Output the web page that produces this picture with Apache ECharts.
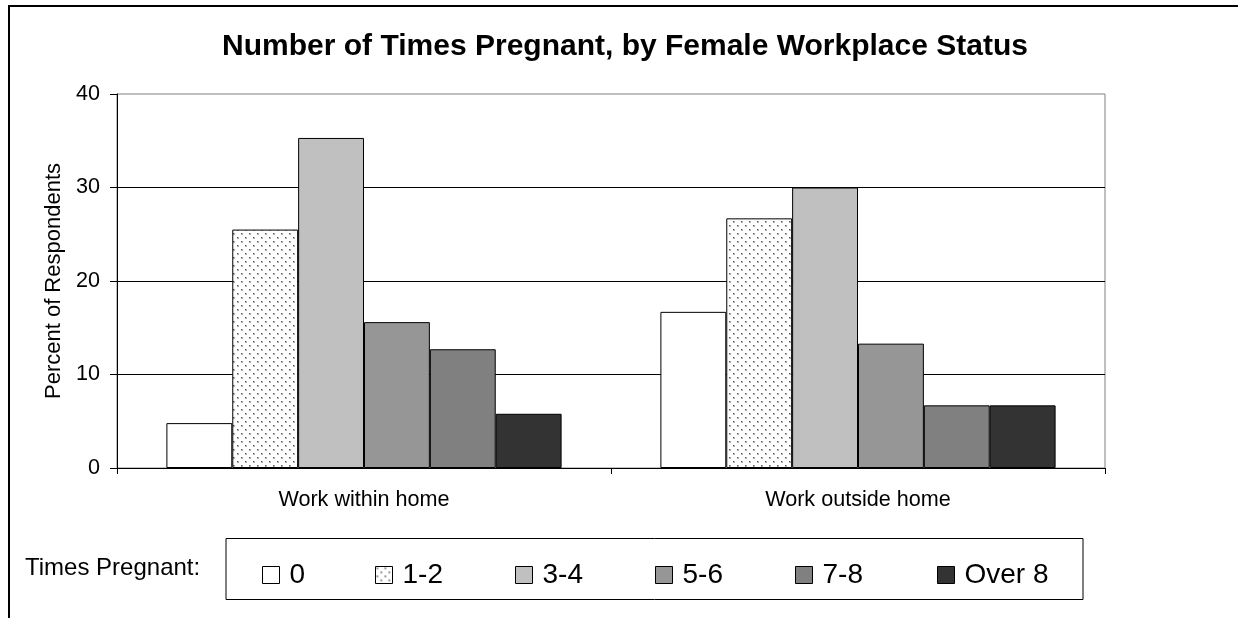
<!DOCTYPE html>
<html>
<head>
<meta charset="utf-8">
<script src="https://cdn.jsdelivr.net/npm/echarts@6/dist/echarts.min.js"></script>
<style>
html,body{margin:0;padding:0;background:#fff;}
#chart{width:1238px;height:618px;}
</style>
</head>
<body>
<div id="chart"></div>
<script>
const titleText = 'Number of Times Pregnant, by Female Workplace Status';
const yAxisTitle = 'Percent of Respondents';
const legendTitle = 'Times Pregnant:';
const categories = ['Work within home', 'Work outside home'];
const seriesNames = ['0', '1-2', '3-4', '5-6', '7-8', 'Over 8'];
const values0 = [4.8, 16.7];
const values1to2 = [25.5, 26.7];
const values3to4 = [35.3, 30.0];
const values5to6 = [15.6, 13.3];
const values7to8 = [12.7, 6.7];
const valuesOver8 = [5.8, 6.7];
const yTicks = [0, 10, 20, 30, 40];

const FONT = '"Liberation Sans", Arial, sans-serif';

function dotPattern() {
  const c = document.createElement('canvas');
  c.width = 8; c.height = 8;
  const g = c.getContext('2d');
  g.fillStyle = '#ffffff'; g.fillRect(0, 0, 8, 8);
  g.fillStyle = '#b0b0b0';
  g.fillRect(1, 1, 2, 2);
  g.fillRect(5, 5, 2, 2);
  g.fillStyle = '#555555';
  g.fillRect(1, 1, 1, 1);
  g.fillRect(5, 5, 1, 1);
  return c;
}

const seriesValues = [values0, values1to2, values3to4, values5to6, values7to8, valuesOver8];
const seriesColors = ['#ffffff', { image: dotPattern(), repeat: 'repeat' }, '#c0c0c0', '#969696', '#808080', '#333333'];
const legendLefts = [262, 375, 515, 655, 795, 937];

const chart = echarts.init(document.getElementById('chart'), null, { renderer: 'canvas' });

const series = seriesNames.map((name, i) => ({
  name: name,
  type: 'bar',
  data: seriesValues[i],
  barGap: '0%',
  barCategoryGap: '20%',
  itemStyle: { color: seriesColors[i], borderColor: '#000', borderWidth: 1 },
  emphasis: { disabled: true },
  animation: false
}));

const legends = seriesNames.map((name, i) => ({
  data: [name],
  left: legendLefts[i],
  top: 561,
  padding: 0,
  itemWidth: 17,
  itemHeight: 17,
  icon: 'rect',
  selectedMode: false,
  itemStyle: { borderColor: '#000', borderWidth: 1 },
  textStyle: { fontFamily: FONT, fontSize: 28, color: '#000', padding: [0, 0, 0, 5] }
}));

const option = {
  backgroundColor: '#fff',
  animation: false,
  textStyle: { fontFamily: FONT },
  grid: {
    left: 117, top: 94, right: 133, bottom: 150,
    show: true, borderColor: '#808080', borderWidth: 1, backgroundColor: 'transparent'
  },
  legend: legends,
  xAxis: {
    type: 'category',
    data: categories,
    axisLine: { lineStyle: { color: '#000', width: 1 } },
    axisTick: { show: true, length: 6, lineStyle: { color: '#000' } },
    axisLabel: { fontFamily: FONT, fontSize: 21.6, color: '#000', margin: 21 },
    splitLine: { show: false }
  },
  yAxis: {
    type: 'value',
    min: yTicks[0], max: yTicks[yTicks.length - 1], interval: 10,
    name: yAxisTitle,
    nameLocation: 'middle',
    nameGap: 52,
    nameTextStyle: { fontFamily: FONT, fontSize: 22, color: '#000' },
    axisLine: { show: true, lineStyle: { color: '#000', width: 1 } },
    axisTick: { show: true, length: 7, lineStyle: { color: '#000' } },
    axisLabel: { fontFamily: FONT, fontSize: 21.6, color: '#000', margin: 17 },
    splitLine: { show: true, showMinLine: false, showMaxLine: false, lineStyle: { color: '#000', width: 1 } }
  },
  graphic: [
    { type: 'rect', silent: true, z: 100,
      shape: { x: 9, y: 6, width: 1400, height: 800 },
      style: { fill: 'none', stroke: '#000', lineWidth: 2 } },
    { type: 'text', silent: true, z: 100,
      style: { text: titleText, x: 625, y: 47, font: 'bold 30px ' + FONT, fill: '#000',
               textAlign: 'center', textVerticalAlign: 'middle' } },
    { type: 'rect', silent: true, z: 1,
      shape: { x: 226, y: 538.5, width: 857, height: 61 },
      style: { fill: '#fff', stroke: '#000', lineWidth: 1 } },
    { type: 'text', silent: true, z: 100,
      style: { text: legendTitle, x: 25, y: 568, font: '24px ' + FONT, fill: '#000',
               textAlign: 'left', textVerticalAlign: 'middle' } }
  ],
  series: series
};

chart.setOption(option);
</script>
</body>
</html>
